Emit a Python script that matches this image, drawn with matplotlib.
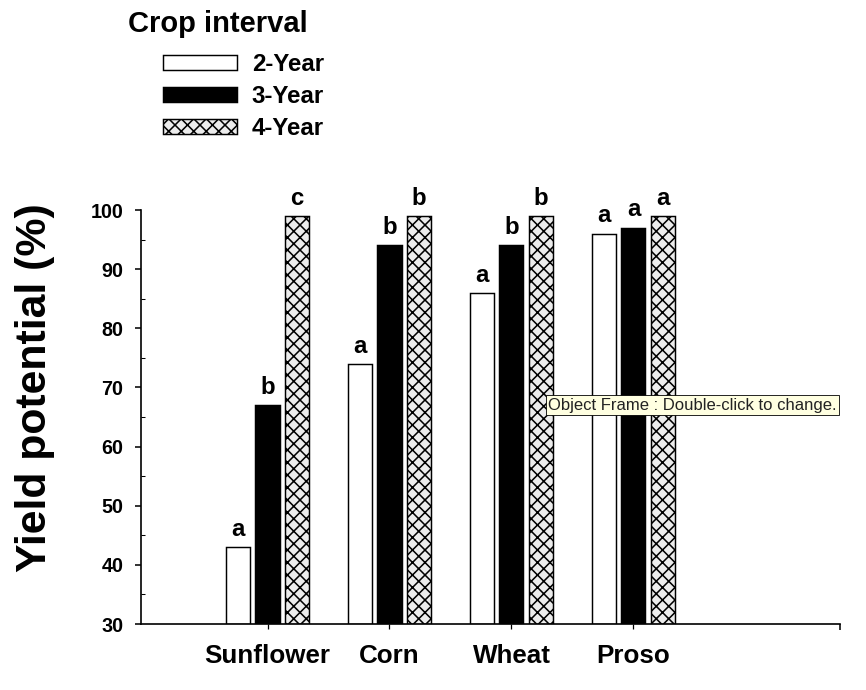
import matplotlib
matplotlib.use("Agg")
import matplotlib.pyplot as plt
import numpy as np
from matplotlib.ticker import MultipleLocator, FixedLocator

crops = ['Sunflower', 'Corn', 'Wheat', 'Proso']
intervals = ['2-Year', '3-Year', '4-Year']
yield_2yr = [43, 74, 86, 96]
yield_3yr = [67, 94, 94, 97]
yield_4yr = [99, 99, 99, 99]
letters_2yr = ['a', 'a', 'a', 'a']
letters_3yr = ['b', 'b', 'b', 'a']
letters_4yr = ['c', 'b', 'b', 'a']

plt.rcParams['font.family'] = ['Liberation Sans', 'DejaVu Sans']
plt.rcParams['hatch.linewidth'] = 1.5

DPI = 75
fig = plt.figure(figsize=(866 / DPI, 690 / DPI), dpi=DPI)
ax = fig.add_axes([141 / 866, 66 / 690, 699 / 866, 414 / 690])

x = np.arange(len(crops))
w = 0.197
off = 0.242
series = [yield_2yr, yield_3yr, yield_4yr]
letters = [letters_2yr, letters_3yr, letters_4yr]
styles = [dict(color='white', edgecolor='black', hatch=None),
          dict(color='black', edgecolor='black', hatch=None),
          dict(color='#ececec', edgecolor='black', hatch='xx')]
handles = []
for i, (vals, st) in enumerate(zip(series, styles)):
    bars = ax.bar(x + (i - 1) * off, np.array(vals) - 30, width=w, bottom=30,
                  color=st['color'], edgecolor=st['edgecolor'], hatch=st['hatch'],
                  linewidth=1.4, label=intervals[i], zorder=2)
    handles.append(bars)
    for xb, v, lt in zip(x + (i - 1) * off, vals, letters[i]):
        ax.annotate(lt, (xb, v), xytext=(0, 6), textcoords='offset points',
                    ha='center', va='bottom', fontsize=23, fontweight='bold')

ax.set_xlim(-1.037, 4.693)
ax.set_ylim(30, 100)
for s in ['top', 'right']:
    ax.spines[s].set_visible(False)
for s in ['left', 'bottom']:
    ax.spines[s].set_linewidth(1.6)

ax.yaxis.set_major_locator(MultipleLocator(10))
ax.yaxis.set_minor_locator(MultipleLocator(5))
ax.tick_params(axis='y', which='major', direction='out', length=6, width=1.5,
               pad=11, labelsize=19)
ax.tick_params(axis='y', which='minor', direction='in', length=4, width=1.0)
for lab in ax.get_yticklabels():
    lab.set_fontweight('bold')

ax.set_xticks(x)
ax.set_xticklabels(crops, fontsize=25, fontweight='bold')
ax.xaxis.set_minor_locator(FixedLocator([4.693]))
ax.tick_params(axis='x', which='major', direction='out', length=5, width=1.2, pad=14)
ax.tick_params(axis='x', which='minor', direction='out', length=6, width=1.5)

ax.set_ylabel('Yield potential (%)', fontsize=41, fontweight='bold')
ax.yaxis.set_label_coords(-0.123, 0.57)

fig.text(128 / 866, 1 - 10 / 690, 'Crop interval', fontsize=28, fontweight='bold',
         ha='left', va='top')
fig.legend(handles=handles, labels=intervals, loc='upper left',
           bbox_to_anchor=(163 / 866, 1 - 53 / 690), frameon=False,
           prop={'weight': 'bold', 'size': 23},
           handlelength=3.1, handleheight=0.6, handletextpad=0.6,
           labelspacing=0.38, borderpad=0, borderaxespad=0)

fig.text(548 / 866, 1 - 405 / 690, 'Object Frame : Double-click to change.',
         fontsize=16, ha='left', va='center', color='#222222',
         bbox=dict(boxstyle='square,pad=0.15', facecolor='#ffffe1',
                   edgecolor='black', linewidth=0.8), zorder=10)

fig.savefig('out.png', dpi=DPI, facecolor='white')
